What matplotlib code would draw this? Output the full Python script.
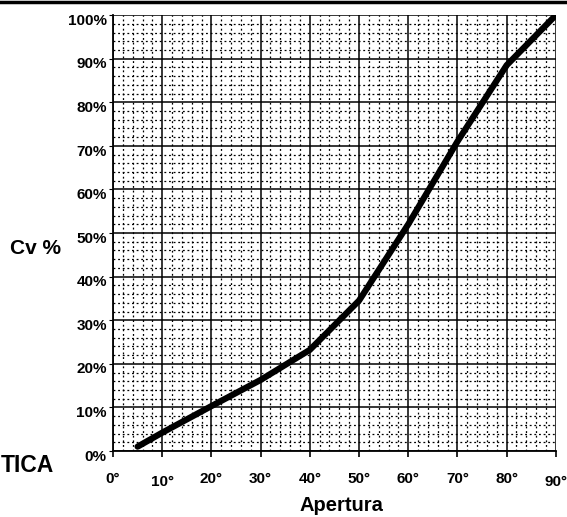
import numpy as np
import matplotlib.pyplot as plt
from matplotlib.lines import Line2D
from matplotlib.transforms import ScaledTranslation

plt.rcParams['font.family'] = ['Liberation Sans', 'DejaVu Sans']
plt.rcParams['font.weight'] = 'bold'

# Curva caracteristica de la valvula
apertura = [5, 10, 20, 30, 40, 50, 60, 70, 80, 90]
cv = [1, 4.2, 10.3, 16.3, 23.2, 34.5, 52, 71, 88.5, 100]

x_ticks = [0, 10, 20, 30, 40, 50, 60, 70, 80, 90]
x_labels = ['0°', '10°', '20°', '30°', '40°', '50°', '60°', '70°', '80°', '90°']
y_ticks = [0, 10, 20, 30, 40, 50, 60, 70, 80, 90, 100]
y_labels = ['0%', '10%', '20%', '30%', '40%', '50%', '60%', '70%', '80%', '90%', '100%']

fig = plt.figure(figsize=(5.67, 5.17), dpi=100)
ax = fig.add_axes([0.1993, 0.1277, 0.781, 0.843])

ax.plot(apertura, cv, color='black', linewidth=4.5, solid_capstyle='round', zorder=5)

ax.set_xlim(0, 90)
ax.set_ylim(0, 100)
ax.set_xticks(x_ticks)
ax.set_xticklabels(x_labels, fontsize=11, fontweight='bold')
ax.set_yticks(y_ticks)
ax.set_yticklabels(y_labels, fontsize=11, fontweight='bold')
ax.set_xticks(np.arange(0, 91, 2), minor=True)
ax.set_yticks(np.arange(0, 101, 2), minor=True)

ax.tick_params(axis='x', which='major', direction='out', length=4, width=1.2, pad=11)
ax.tick_params(axis='y', which='major', direction='out', length=3, width=0.8, pad=1.5)
ax.tick_params(which='minor', length=0)

# etiquetas algo desplazadas como en el original
for lab in ax.get_yticklabels():
    lab.set_transform(lab.get_transform() + ScaledTranslation(0, -3 / 72, fig.dpi_scale_trans))
for i, lab in enumerate(ax.get_xticklabels()):
    if x_labels[i] in ('10°', '90°'):
        lab.set_transform(lab.get_transform() + ScaledTranslation(0, -2 / 72, fig.dpi_scale_trans))

ax.grid(which='major', color='black', linewidth=1.1)
ax.grid(which='minor', color='black', linewidth=0.9, linestyle=(0, (1.5, 2.2)))
ax.set_axisbelow(True)

for s in ['top', 'right']:
    ax.spines[s].set_visible(False)
ax.spines['left'].set_linewidth(1.3)
ax.spines['bottom'].set_linewidth(1.3)

fig.text(0.602, 0.012, 'Apertura', fontsize=14.5, fontweight='bold', ha='center', va='baseline')
fig.text(0.063, 0.520, 'Cv %', fontsize=15, fontweight='bold', ha='center', va='center')
fig.text(0.002, 0.099, 'TICA', fontsize=16.5, fontweight='bold', ha='left', va='center')

# borde superior de la tabla original
fig.add_artist(Line2D([0, 1], [0.997, 0.997], color='black', linewidth=2.5))

fig.savefig('out.png', dpi=100)
